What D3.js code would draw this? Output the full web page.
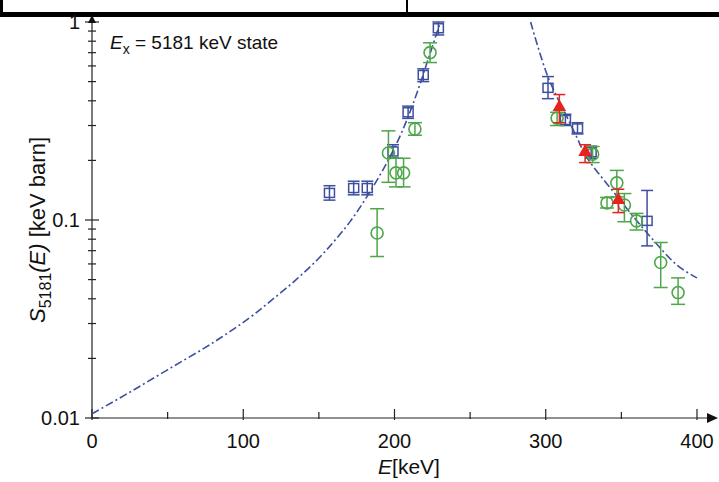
<!DOCTYPE html>
<html lang="en">
<head>
  <meta charset="UTF-8">
  <title>S-factor 5181 keV state</title>
  <script src="https://d3js.org/d3.v7.min.js"></script>
  <style>
    body { margin: 0; background: #fff; }
    text { font-family: "Liberation Sans", Arial, sans-serif; fill: #111; }
  </style>
</head>
<body>
<script>
  var width = 719, height = 482;

  // blue squares: energy, S, low, high
  var sqE  = [157, 173, 182, 199, 209, 219, 229, 301.5, 313, 321, 330, 367];
  var sqS  = [0.137, 0.145, 0.145, 0.222, 0.35, 0.54, 0.93, 0.465, 0.32, 0.29, 0.22, 0.099];
  var sqLo = [0.126, 0.134, 0.134, 0.206, 0.326, 0.50, 0.86, 0.41, 0.30, 0.272, 0.205, 0.074];
  var sqHi = [0.149, 0.157, 0.157, 0.240, 0.376, 0.58, 1.0, 0.53, 0.342, 0.31, 0.236, 0.141];

  // green circles
  var ciE  = [188.5, 196, 201, 206, 213.5, 223.5, 307.5, 331, 340.5, 347, 352, 360, 376, 387.5];
  var ciS  = [0.086, 0.218, 0.173, 0.173, 0.288, 0.70, 0.327, 0.215, 0.122, 0.154, 0.119, 0.099, 0.061, 0.043];
  var ciLo = [0.0654, 0.155, 0.147, 0.147, 0.268, 0.624, 0.30, 0.195, 0.115, 0.131, 0.098, 0.089, 0.0456, 0.0375];
  var ciHi = [0.114, 0.282, 0.205, 0.205, 0.31, 0.785, 0.35, 0.235, 0.13, 0.178, 0.136, 0.108, 0.077, 0.051];

  // red triangles
  var trE  = [309, 326, 348];
  var trS  = [0.372, 0.22, 0.126];
  var trLo = [0.31, 0.195, 0.109];
  var trHi = [0.43, 0.24, 0.143];

  // dash-dot curves
  var leftE  = [0, 25, 52, 80, 104, 119, 135, 149, 160, 171, 182, 195, 205, 214, 222, 230];
  var leftS  = [0.0105, 0.0135, 0.0179, 0.024, 0.032, 0.0395, 0.050, 0.063, 0.078, 0.099, 0.132, 0.195, 0.28, 0.42, 0.64, 0.98];
  var rightE = [290, 301.5, 315, 320.5, 327, 345, 367, 387, 400];
  var rightS = [1.0, 0.527, 0.32, 0.262, 0.208, 0.138, 0.086, 0.059, 0.051];

  var xTicks = [0, 100, 200, 300, 400];
  var xMinor = [50, 150, 250, 350];
  var yTicks = [1, 0.1, 0.01];

  var blue = "#3d4f9e", green = "#4ea64a", red = "#e8231c";

  var x = d3.scaleLinear().domain([0, 400]).range([92, 697]);
  var y = d3.scaleLog().domain([0.01, 1]).range([418, 22]);

  var svg = d3.select("body").append("svg")
      .attr("width", width).attr("height", height);

  // cropped frame at the top
  svg.append("rect").attr("x", 0).attr("y", 12).attr("width", width).attr("height", 5).attr("fill", "#000");
  svg.append("rect").attr("x", 0).attr("y", 0).attr("width", 3).attr("height", 17).attr("fill", "#000");
  svg.append("rect").attr("x", 406).attr("y", 0).attr("width", 2).attr("height", 13).attr("fill", "#000");

  // axes
  var ax = svg.append("g").attr("stroke", "#222").attr("stroke-width", 1.2);
  ax.append("line").attr("x1", x(0)).attr("x2", 710).attr("y1", y(0.01)).attr("y2", y(0.01));
  ax.append("line").attr("x1", x(0)).attr("x2", x(0)).attr("y1", y(0.01)).attr("y2", 18);
  svg.append("path").attr("d", "M718,418 L707,413 L707,423 Z").attr("fill", "#111");
  svg.append("path").attr("d", "M92,15 L88,23 L96,23 Z").attr("fill", "#111");

  ax.selectAll(".xt").data(xTicks).enter().append("line")
      .attr("x1", function(d) { return x(d); }).attr("x2", function(d) { return x(d); })
      .attr("y1", y(0.01) + 2).attr("y2", y(0.01) - 9);
  ax.selectAll(".xm").data(xMinor).enter().append("line")
      .attr("x1", function(d) { return x(d); }).attr("x2", function(d) { return x(d); })
      .attr("y1", y(0.01) + 1).attr("y2", y(0.01) - 6);

  var yMinor = [];
  [0.01, 0.1].forEach(function(b) { for (var k = 2; k <= 9; k++) yMinor.push(b * k); });
  ax.selectAll(".yt").data(yTicks).enter().append("line")
      .attr("x1", x(0) - 7).attr("x2", x(0) + 7)
      .attr("y1", function(d) { return y(d); }).attr("y2", function(d) { return y(d); });
  ax.selectAll(".ym").data(yMinor).enter().append("line")
      .attr("x1", x(0) - 4).attr("x2", x(0) + 4)
      .attr("y1", function(d) { return y(d); }).attr("y2", function(d) { return y(d); });

  svg.selectAll(".xl").data(xTicks).enter().append("text")
      .attr("x", function(d) { return x(d); }).attr("y", 448)
      .attr("text-anchor", "middle").attr("font-size", 20)
      .text(function(d) { return d; });
  svg.selectAll(".yl").data(yTicks).enter().append("text")
      .attr("x", 80).attr("y", function(d) { return y(d) + 7; })
      .attr("text-anchor", "end").attr("font-size", 20)
      .text(function(d) { return d; });

  // axis titles
  var xt = svg.append("text").attr("x", 409).attr("y", 474).attr("text-anchor", "middle").attr("font-size", 21);
  xt.append("tspan").attr("font-style", "italic").text("E");
  xt.append("tspan").text("[keV]");

  var yt = svg.append("text").attr("transform", "translate(45,230) rotate(-90)")
      .attr("text-anchor", "middle").attr("font-size", 22);
  yt.append("tspan").attr("font-style", "italic").text("S");
  yt.append("tspan").attr("font-size", 16).attr("dy", 6).text("5181");
  yt.append("tspan").attr("font-style", "italic").attr("dy", -6).text("(E)");
  yt.append("tspan").text(" [keV barn]");

  var lab = svg.append("text").attr("x", 110).attr("y", 49).attr("font-size", 19);
  lab.append("tspan").attr("font-style", "italic").text("E");
  lab.append("tspan").attr("font-size", 14).attr("dy", 5).text("x");
  lab.append("tspan").attr("dy", -5).text(" = 5181 keV state");

  // curves
  var line = d3.line().x(function(d) { return x(d[0]); }).y(function(d) { return y(d[1]); })
      .curve(d3.curveCatmullRom);
  [d3.zip(leftE, leftS), d3.zip(rightE, rightS)].forEach(function(c) {
    svg.append("path").attr("d", line(c)).attr("fill", "none")
        .attr("stroke", blue).attr("stroke-width", 1.6)
        .attr("stroke-dasharray", "8,3,2,3");
  });

  function errBars(E, lo, hi, col, cap) {
    var g = svg.append("g").attr("stroke", col).attr("stroke-width", 1.5);
    E.forEach(function(e, i) {
      var cx = x(e);
      g.append("line").attr("x1", cx).attr("x2", cx).attr("y1", y(lo[i])).attr("y2", y(hi[i]));
      g.append("line").attr("x1", cx - cap).attr("x2", cx + cap).attr("y1", y(lo[i])).attr("y2", y(lo[i]));
      g.append("line").attr("x1", cx - cap).attr("x2", cx + cap).attr("y1", y(hi[i])).attr("y2", y(hi[i]));
    });
  }

  // squares
  errBars(sqE, sqLo, sqHi, blue, 6);
  svg.append("g").selectAll("rect").data(d3.zip(sqE, sqS)).enter().append("rect")
      .attr("x", function(d) { return x(d[0]) - 5; }).attr("y", function(d) { return y(d[1]) - 4.5; })
      .attr("width", 10).attr("height", 9)
      .attr("fill", "none").attr("stroke", blue).attr("stroke-width", 1.5);

  // circles
  errBars(ciE, ciLo, ciHi, green, 7);
  svg.append("g").selectAll("circle").data(d3.zip(ciE, ciS)).enter().append("circle")
      .attr("cx", function(d) { return x(d[0]); }).attr("cy", function(d) { return y(d[1]); })
      .attr("r", 6).attr("fill", "none").attr("stroke", green).attr("stroke-width", 1.6);

  // triangles
  errBars(trE, trLo, trHi, red, 6);
  svg.append("g").selectAll("path").data(d3.zip(trE, trS)).enter().append("path")
      .attr("transform", function(d) { return "translate(" + x(d[0]) + "," + y(d[1]) + ")"; })
      .attr("d", d3.symbol().type(d3.symbolTriangle).size(80))
      .attr("fill", red);
</script>
</body>
</html>
